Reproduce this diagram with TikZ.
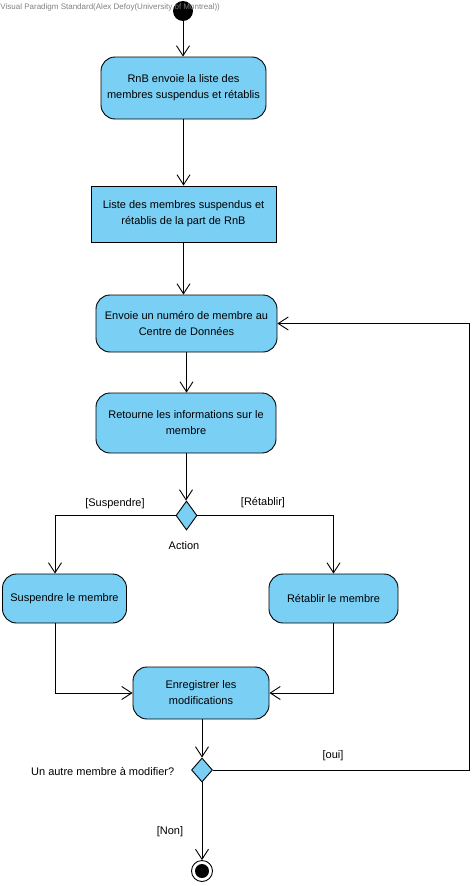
\documentclass[tikz,border=0pt]{standalone}
\usepackage{fontspec}
\setmainfont{Liberation Sans}
\usetikzlibrary{positioning,arrows.meta,shapes.geometric}
\definecolor{vpblue}{RGB}{122,207,245}

\begin{document}
\begin{tikzpicture}[x=1pt,y=-1pt,line width=0.9pt,
    font=\fontsize{11}{16}\selectfont,
    action/.style={draw,fill=vpblue,rounded corners=14pt,align=center,inner sep=0pt},
    objbox/.style={draw,fill=vpblue,align=center,inner sep=0pt},
    choice/.style={draw,fill=vpblue,diamond,inner sep=0pt,minimum width=21pt,minimum height=29pt},
    flow/.style={-{Straight Barb[length=10pt,width=13pt]}}]
    \useasboundingbox (0,0) rectangle (473,886);
    % Start and actions
    \node[circle,fill=black,inner sep=0pt,minimum size=20pt] (init) at (183,11) {};
    % Watermark
    \node[anchor=west,gray,font=\fontsize{8}{9}\selectfont,inner sep=0pt] (wm) at (0,7)
        {Visual Paradigm Standard(Alex Defoy(University of Montreal))};
    \node[action,minimum width=165pt,minimum height=62pt] (envoi) at (183.5,88)
        {RnB envoie la liste des\\membres suspendus et rétablis};
    \node[objbox,minimum width=185pt,minimum height=56pt] (liste) at (183.5,214)
        {Liste des membres suspendus et\\rétablis de la part de RnB};
    \node[action,minimum width=181pt,minimum height=57pt] (numero) at (186.5,323.5)
        {Envoie un numéro de membre au\\Centre de Données};
    \node[action,minimum width=180pt,minimum height=60pt] (infos) at (186,423)
        {Retourne les informations sur le\\membre};
    % Choice
    \node[choice] (action) at (186.5,515.5) {};
    \node (actlbl) at (184,546) {Action};
    \node[action,minimum width=124pt,minimum height=49pt] (susp) at (64.5,598.5)
        {Suspendre le membre};
    \node[action,minimum width=129pt,minimum height=49pt] (retab) at (333.5,598.5)
        {Rétablir le membre};
    \node[action,minimum width=136pt,minimum height=52pt] (save) at (201,693)
        {Enregistrer les\\modifications};
    % Loop back
    \node[choice,minimum height=24pt] (autre) at (202,770) {};
    \node[anchor=east] (autrelbl) at (178,771) {Un autre membre à modifier?};
    \node[circle,draw,fill=white,inner sep=0pt,minimum size=21pt] (final) at (202,871) {};
    \node[circle,fill=black,inner sep=0pt,minimum size=14pt] (finalin) at (final) {};
    \coordinate (back) at (469,0);
    % Flows
    \draw[flow] (init) -- (init |- envoi.north);
    \draw[flow] (envoi.south) -- (envoi.south |- liste.north);
    \draw[flow] (liste.south) -- (liste.south |- numero.north);
    \draw[flow] (numero.south) -- (numero.south |- infos.north);
    \draw[flow] (infos.south) -- (infos.south |- action.north);
    \draw[flow] (action.west) -| ([xshift=-9.5pt]susp.north);
    \draw[flow] (action.east) -| (retab.north);
    \draw[flow] ([xshift=-9.5pt]susp.south) |- (save.west);
    \draw[flow] (retab.south) |- (save.east);
    \draw[flow] (save.south -| autre) -- (autre.north);
    \draw[flow] (autre.east) -| (back |- numero.east) -- (numero.east);
    \draw[flow] (autre.south) -- (final.north);
    % Guards
    \node (gsusp) at (115,504) {[Suspendre]};
    \node (gretab) at (263,503) {[Rétablir]};
    \node (goui) at (333,756) {[oui]};
    \node (gnon) at (170,832) {[Non]};
\end{tikzpicture}
\end{document}
